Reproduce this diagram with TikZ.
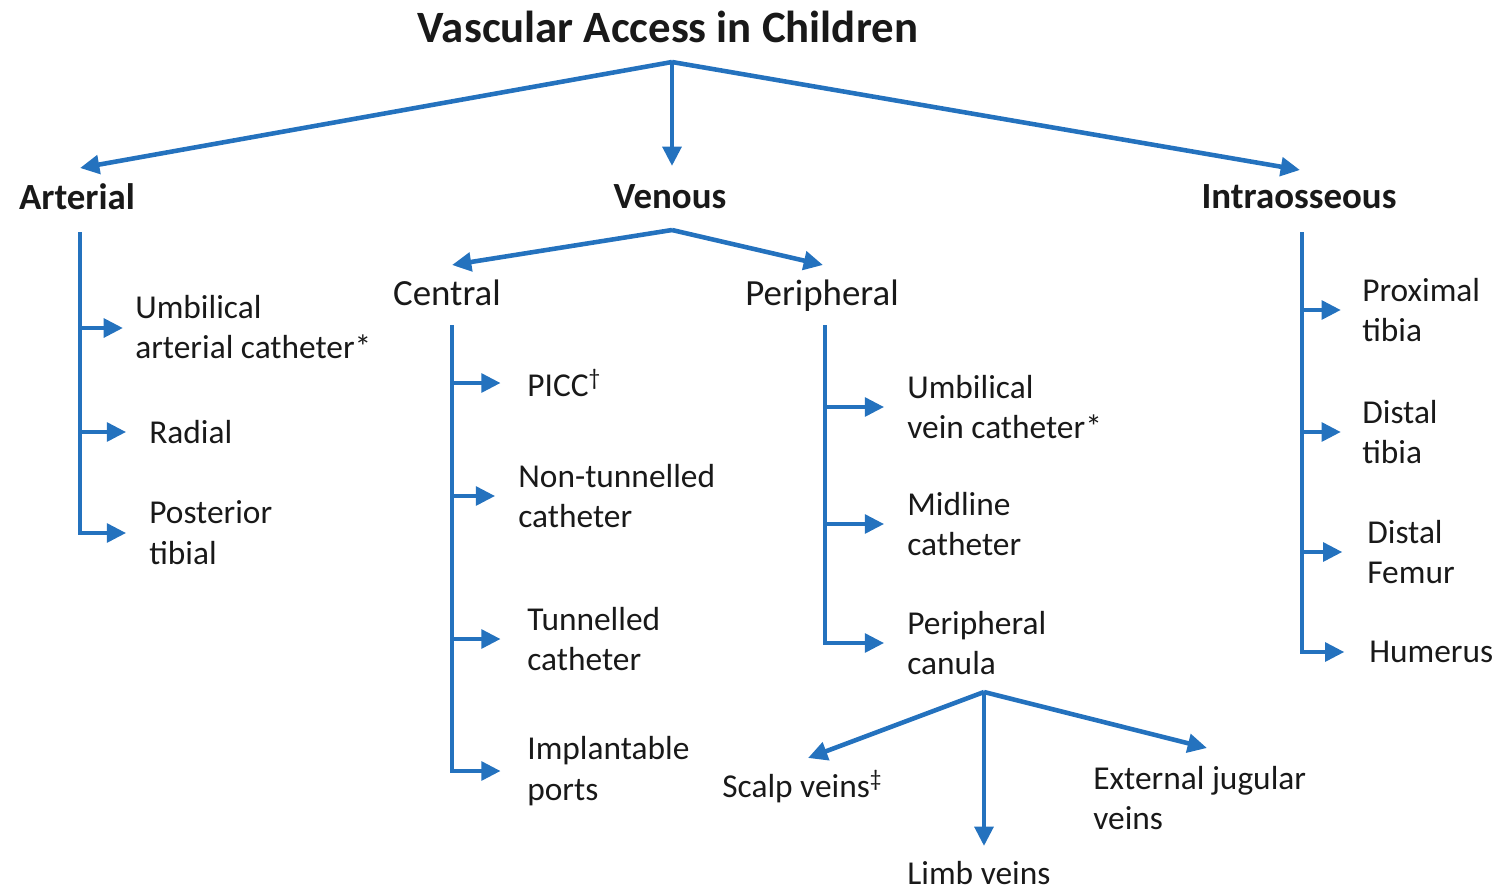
\documentclass[tikz,border=0pt]{standalone}
\usepackage{fontspec}
\setmainfont{Carlito}
\usepackage{tikz}
\usetikzlibrary{arrows.meta, positioning, calc}
\definecolor{vablue}{RGB}{36,114,190}
\definecolor{vatext}{RGB}{25,25,25}
\tikzset{
  title/.style={font=\fontsize{25.5}{30}\selectfont\bfseries,text=vatext},
  head/.style={font=\fontsize{21}{25}\selectfont\bfseries,text=vatext},
  subhead/.style={font=\fontsize{21}{25}\selectfont,text=vatext},
  leaf/.style={anchor=west,align=left,font=\fontsize{19}{23.3}\selectfont,text=vatext,inner sep=0pt},
  arrow/.style={-{Triangle[length=11pt,width=10.5pt]},line width=2.6pt,color=vablue},
  line/.style={line width=2.6pt,color=vablue}
}

\begin{document}
\begin{tikzpicture}[x=0.02cm,y=-0.02cm]
  \useasboundingbox (0,0) rectangle (1502,890);

  % Title and main branches
  \node[title] (root) at (668,27) {Vascular Access in Children};
  \node[head] (art) at (77,197) {Arterial};
  \node[head] (ven) at (670,197) {Venous};
  \node[head] (ios) at (1299,197) {Intraosseous};
  \coordinate (fork) at (672,62);
  \draw[arrow] (fork) -- (80,168);
  \draw[arrow] (fork) -- (672,166);
  \draw[arrow] (fork) -- (1300,170);

  % Arterial
  \node[leaf] (uac) at (135,327) {Umbilical\\arterial catheter*};
  \node[leaf] (rad) at (149,432) {Radial};
  \node[leaf] (ptib) at (149,533) {Posterior\\tibial};
  \coordinate (art top) at (80,232);
  \draw[arrow] (art top |- 0,328) -- (123,328);
  \draw[arrow] (art top |- rad.west) -- ([xshift=-13]rad.west);
  \draw[arrow] (art top) |- ([xshift=-13]ptib.west);

  % Venous
  \node[subhead] (cen) at (447,293) {Central};
  \node[subhead] (per) at (822,296) {Peripheral};
  \coordinate (ven fork) at (672,230);
  \draw[arrow] (ven fork) -- (452,265);
  \draw[arrow] (ven fork) -- (823,265);

  % Central
  \node[leaf] (picc) at (527,383) {PICC\textsuperscript{†}};
  \node[leaf] (ntun) at (518,496) {Non-tunnelled\\catheter};
  \node[leaf] (tun) at (527,639) {Tunnelled\\catheter};
  \node[leaf] (port) at (527,771) {Implantable\\ports};
  \coordinate (cen top) at (452,325);
  \draw[arrow] (cen top |- picc.west) -- ([xshift=-15]picc.west);
  \draw[arrow] (cen top |- ntun.west) -- ([xshift=-13]ntun.west);
  \draw[arrow] (cen top |- tun.west) -- ([xshift=-15]tun.west);
  \draw[arrow] (cen top) |- ([xshift=-15]port.west);

  % Peripheral
  \node[leaf] (uvc) at (907,407) {Umbilical\\vein catheter*};
  \node[leaf] (mid) at (907,524) {Midline\\catheter};
  \node[leaf] (can) at (907,643) {Peripheral\\canula};
  \coordinate (per top) at (825,325);
  \draw[arrow] (per top |- uvc.west) -- ([xshift=-13]uvc.west);
  \draw[arrow] (per top |- mid.west) -- ([xshift=-13]mid.west);
  \draw[arrow] (per top) |- ([xshift=-13]can.west);

  % Peripheral canula sites
  \node[leaf] (scalp) at (722,787) {Scalp veins\textsuperscript{‡}};
  \node[leaf] (limb) at (907,873) {Limb veins};
  \node[leaf] (ejv) at (1093,798) {External jugular\\veins};
  \coordinate (can fork) at (984,692);
  \draw[arrow] (can fork) -- (808,758);
  \draw[arrow] (can fork) -- (984,846);
  \draw[arrow] (can fork) -- (1207,748);

  % Intraosseous
  \node[leaf] (ptb) at (1362,310) {Proximal\\tibia};
  \node[leaf] (dtb) at (1362,432) {Distal\\tibia};
  \node[leaf] (dfe) at (1367,552) {Distal\\Femur};
  \node[leaf] (hum) at (1369,652) {Humerus};
  \coordinate (ios top) at (1302,232);
  \draw[arrow] (ios top |- ptb.west) -- ([xshift=-12]ptb.west);
  \draw[arrow] (ios top |- dtb.west) -- ([xshift=-12]dtb.west);
  \draw[arrow] (ios top |- dfe.west) -- ([xshift=-14]dfe.west);
  \draw[arrow] (ios top) |- ([xshift=-14]hum.west);
\end{tikzpicture}
\end{document}
